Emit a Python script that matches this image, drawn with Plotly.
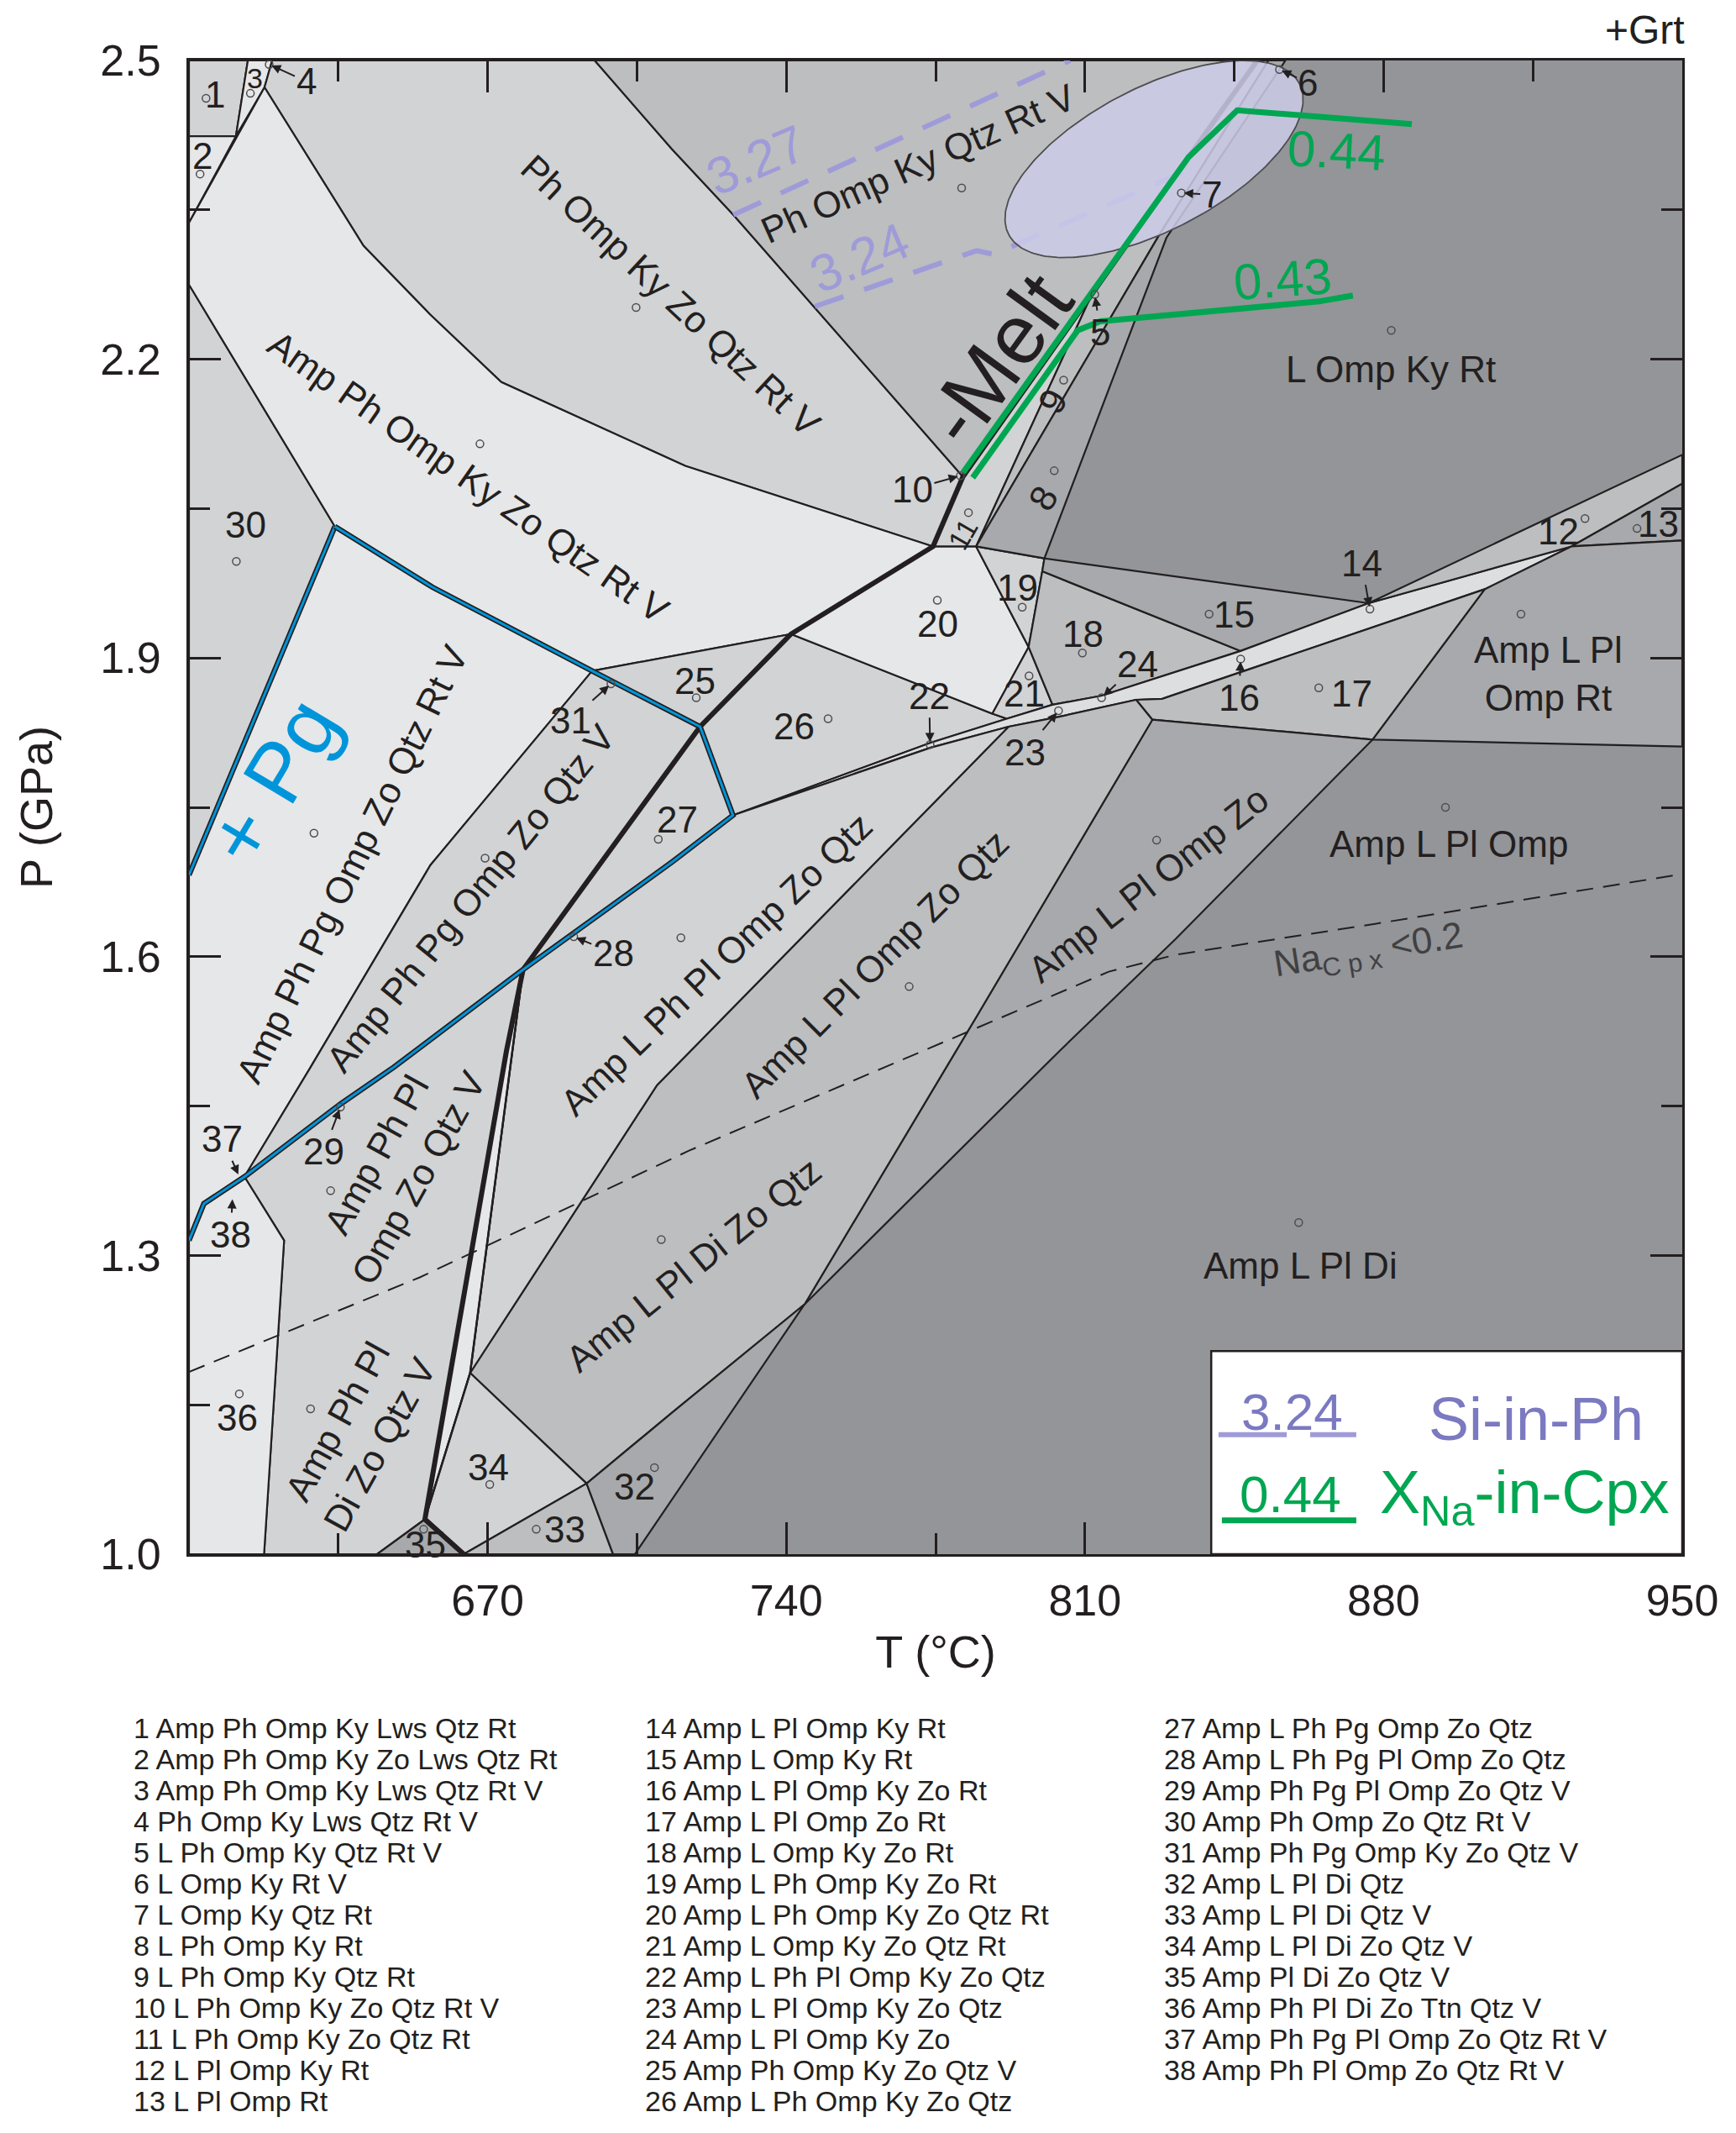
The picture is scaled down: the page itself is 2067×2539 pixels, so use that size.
import numpy as np
import plotly.graph_objects as go

FONT = "Liberation Sans, Arial, Helvetica, sans-serif"
INK = "#231f20"
G10, G20, G30, G40, G50 = "#e6e7e8", "#d1d3d4", "#bcbec0", "#a7a9ac", "#939598"
GBAND = "#dddee0"
BLUE = "#0095da"
GREEN = "#00a651"
LAV = "#9e9bd8"
LAV_D = "#7b79c0"

W, H = 2067, 2539
ML, MR, MT, MB = 217, 72, 64, 697

# ---------------- axes ----------------
T_RANGE = [600, 950]
P_RANGE = [1.0, 2.5]
T_TICKS = [670, 740, 810, 880, 950]
T_MINOR = [635, 705, 775, 845, 915]
P_TICKS = [1.0, 1.3, 1.6, 1.9, 2.2, 2.5]
P_MINOR = [1.15, 1.45, 1.75, 2.05, 2.35]

# ---------------- phase fields (T in degC, P in GPa) ----------------
FIELD_1 = [(600, 2.5), (613.8, 2.5), (611, 2.424), (600, 2.424)]
FIELD_2 = [(600, 2.424), (611, 2.424), (600, 2.337)]
FIELD_3 = [(611, 2.424), (613.8, 2.5), (619.5, 2.5), (617.7, 2.473)]
FIELD_PH_OMP_KY_ZO = [(617.7, 2.473), (619.5, 2.5), (695.1, 2.5), (713.2, 2.411), (727.6, 2.345),
                      (781.4, 2.082), (774.4, 2.012), (716.3, 2.093), (673.2, 2.177), (656.5, 2.245),
                      (640.9, 2.314)]
FIELD_PH_OMP_KY_QTZ = [(695.1, 2.5), (850.4, 2.5), (834.3, 2.403), (781.4, 2.082), (727.6, 2.345),
                       (713.2, 2.411)]
FIELD_30 = [(600, 2.275), (634.2, 2.032), (600, 1.682)]
FIELD_AMP_PH_OMP_KY_ZO = [(600, 2.337), (617.7, 2.473), (640.9, 2.314), (656.5, 2.245), (673.2, 2.177),
                          (716.3, 2.093), (774.4, 2.012), (741.1, 1.924), (717.1, 1.905), (694.5, 1.887),
                          (657.1, 1.971), (634.2, 2.032), (600, 2.275)]
FIELD_25 = [(694.5, 1.887), (717.1, 1.905), (741.1, 1.924), (719.8, 1.831)]
FIELD_PG_RT = [(634.2, 2.032), (657.1, 1.971), (694.5, 1.887), (656.6, 1.692), (628.5, 1.489),
               (613.0, 1.379), (603.5, 1.352), (600, 1.315), (600, 1.682)]
FIELD_PG = [(694.5, 1.887), (719.8, 1.831), (678.3, 1.587), (648.0, 1.489), (635.5, 1.452),
            (613.0, 1.379), (628.5, 1.489), (656.6, 1.692)]
FIELD_27 = [(719.8, 1.831), (727.5, 1.742), (713.2, 1.695), (678.3, 1.587)]
FIELD_26 = [(719.8, 1.831), (741.1, 1.924), (788.3, 1.844), (791.7, 1.839), (773.9, 1.815), (727.5, 1.742)]
FIELD_20 = [(774.4, 2.012), (784.5, 2.012), (796.8, 1.911), (788.3, 1.844), (741.1, 1.924)]
FIELD_21 = [(788.3, 1.844), (796.8, 1.911), (802.4, 1.853), (791.7, 1.839)]
FIELD_19 = [(784.5, 2.012), (800.5, 2.0), (800.0, 1.987), (796.8, 1.911)]
FIELD_18 = [(800.0, 1.987), (846.5, 1.907), (813.8, 1.862), (802.4, 1.853), (796.8, 1.911)]
FIELD_15 = [(800.0, 1.987), (800.5, 2.0), (876.5, 1.955), (846.5, 1.907)]
FIELD_BAND = [(727.5, 1.742), (773.9, 1.815), (791.7, 1.839), (802.4, 1.853), (813.8, 1.862),
              (846.5, 1.907), (876.5, 1.955), (924.0, 2.012), (903.7, 1.969), (828.1, 1.859),
              (822.0, 1.858), (804.0, 1.841), (792.1, 1.831), (773.9, 1.810)]
FIELD_12 = [(876.5, 1.955), (950, 2.104), (950, 2.075), (924.0, 2.012)]
FIELD_13 = [(924.0, 2.012), (950, 2.075), (950, 2.018)]
FIELD_L_PL_OMP_RT = [(924.0, 2.012), (950, 2.018), (950, 1.811), (877.4, 1.818), (903.7, 1.969)]
FIELD_17 = [(822.0, 1.858), (828.1, 1.859), (903.7, 1.969), (877.4, 1.818), (825.8, 1.838)]
FIELD_L_PL_OMP_ZO = [(825.8, 1.838), (877.4, 1.818), (831.3, 1.618), (804.2, 1.506), (744.3, 1.251),
                     (784.9, 1.542)]
FIELD_L_PL_OMP_ZO_QTZ = [(792.1, 1.831), (804.0, 1.841), (822.0, 1.858), (825.8, 1.838), (784.9, 1.542),
                         (744.3, 1.251), (713.2, 1.142), (693.2, 1.071), (665.9, 1.182), (709.7, 1.471)]
FIELD_L_PH_PL_OMP = [(727.5, 1.742), (773.9, 1.810), (792.1, 1.831), (709.7, 1.471), (665.9, 1.182),
                     (678.3, 1.587), (713.2, 1.695)]
FIELD_MELT_GAP = [(678.3, 1.587), (665.9, 1.182), (655.3, 1.035), (674.4, 1.505)]
FIELD_PH_PL_ZO_QTZ_V = [(613.0, 1.379), (635.5, 1.452), (648.0, 1.489), (678.3, 1.587), (674.4, 1.505),
                        (655.3, 1.035), (644.1, 1.0), (617.6, 1.0), (622.3, 1.315)]
FIELD_36 = [(600, 1.315), (603.5, 1.352), (613.0, 1.379), (622.3, 1.315), (617.6, 1.0), (600, 1.0)]
FIELD_34 = [(665.9, 1.182), (693.2, 1.071), (664.4, 1.0), (655.3, 1.035)]
FIELD_35 = [(655.3, 1.035), (664.4, 1.0), (644.1, 1.0)]
FIELD_33 = [(664.4, 1.0), (693.2, 1.071), (699.4, 1.0)]
FIELD_32 = [(693.2, 1.071), (713.2, 1.142), (744.3, 1.251), (704.5, 1.0), (699.4, 1.0)]
FIELD_11 = [(774.4, 2.012), (781.4, 2.082), (811.6, 2.265), (784.5, 2.012)]
FIELD_9 = [(784.5, 2.012), (811.6, 2.265), (834.3, 2.403), (850.4, 2.5), (853.0, 2.5), (827.3, 2.324)]
FIELD_8 = [(784.5, 2.012), (827.3, 2.324), (853.0, 2.5), (857.0, 2.5), (829.1, 2.322), (800.5, 2.0)]

FIELDS = [
    (FIELD_1, G20), (FIELD_2, G10), (FIELD_3, G10),
    (FIELD_PH_OMP_KY_ZO, G20), (FIELD_PH_OMP_KY_QTZ, G30), (FIELD_30, G20),
    (FIELD_AMP_PH_OMP_KY_ZO, G10), (FIELD_25, G20), (FIELD_PG_RT, G10), (FIELD_PG, G20),
    (FIELD_27, G20), (FIELD_26, G20), (FIELD_20, G10), (FIELD_21, G20), (FIELD_19, G20),
    (FIELD_18, G30), (FIELD_15, G40), (FIELD_BAND, GBAND), (FIELD_12, G30), (FIELD_13, G40),
    (FIELD_L_PL_OMP_RT, G40), (FIELD_17, G30), (FIELD_L_PL_OMP_ZO, G40),
    (FIELD_L_PL_OMP_ZO_QTZ, G30), (FIELD_L_PH_PL_OMP, G20), (FIELD_MELT_GAP, G10),
    (FIELD_PH_PL_ZO_QTZ_V, G20), (FIELD_36, G10), (FIELD_34, G20), (FIELD_35, G40),
    (FIELD_33, G30), (FIELD_32, G40), (FIELD_11, G20), (FIELD_9, G30), (FIELD_8, G40),
]

# ---------------- special curves ----------------
MELT_LINE = [(850.4, 2.5), (834.3, 2.403), (781.4, 2.082), (774.4, 2.012), (741.1, 1.924),
             (719.8, 1.831), (678.3, 1.587), (674.4, 1.505), (655.3, 1.035), (664.4, 1.0)]
MELT_THIN = [(678.3, 1.587), (665.9, 1.182), (655.3, 1.035)]
PG_LINE = [(634.2, 2.032), (600, 1.682)]
PG_LOOP = [(634.2, 2.032), (657.1, 1.971), (694.5, 1.887), (719.8, 1.831), (727.5, 1.742),
           (713.2, 1.695), (678.3, 1.587), (648.0, 1.489), (635.5, 1.452), (613.0, 1.379),
           (603.5, 1.352), (600, 1.315)]
NA_CPX_02 = [(600, 1.183), (654.1, 1.278), (717.1, 1.405), (815.6, 1.585), (831.3, 1.602),
             (878.0, 1.633), (950, 1.683)]
SI_327 = [(727.6, 2.345), (806.5, 2.5)]
SI_324 = [(746.7, 2.253), (784.6, 2.309), (789.0, 2.305), (793.3, 2.314), (835.2, 2.392)]
XNA_044 = [(781.4, 2.086), (834.3, 2.403), (845.7, 2.450), (886.6, 2.436)]
XNA_043 = [(783.7, 2.081), (808.3, 2.229), (813.6, 2.238), (864.8, 2.258), (872.8, 2.264)]

ELLIPSE_CENTER = (826.2, 2.401)
ELLIPSE_AXES_PX = (195, 85)
ELLIPSE_TILT_DEG = 27.4

POINT_T = [604.0, 602.6, 614.4, 704.8, 668.2, 611.1, 781.1, 881.8, 629.3, 669.4, 715.3, 710.0, 718.9,
           749.8, 775.4, 795.3, 809.4, 796.9, 768.8, 826.8, 839.1, 864.8, 912.2, 894.5, 927.2, 939.4,
           802.8, 805.0, 782.7, 633.2, 628.5, 611.8, 670.5, 681.4, 709.1, 655.0, 710.7, 860.1, 773.7,
           846.5, 876.8, 803.8, 813.9, 690.2, 698.9, 832.6, 855.6, 780.8, 812.3, 635.5, 618.8]
POINT_P = [2.462, 2.386, 2.467, 2.252, 2.115, 1.997, 2.372, 2.229, 1.724, 1.699, 1.619, 1.718, 1.860,
           1.839, 1.958, 1.951, 1.905, 1.882, 1.570, 1.717, 1.944, 1.870, 1.944, 1.750, 2.040, 2.030,
           2.088, 2.179, 2.046, 1.365, 1.146, 1.161, 1.070, 1.025, 1.087, 1.025, 1.316, 1.333, 1.813,
           1.899, 1.949, 1.847, 1.860, 1.620, 1.874, 2.367, 2.491, 2.083, 2.265, 1.449, 2.496]

# ---------------- labels ----------------
FIELD_LABELS = [
    ("Ph Omp Ky Zo Qtz Rt V", 712.9, 2.264, 43),
    ("Amp Ph Omp Ky Zo Qtz Rt V", 665.5, 2.082, 35),
    ("Ph Omp Ky Qtz Rt V", 770.9, 2.397, -24),
    ("L Omp Ky Rt", 881.6, 2.190, 0),
    ("Amp Ph Pg Omp Zo Qtz Rt V", 638.2, 1.693, -64),
    ("Amp Ph Pg Omp Zo Qtz V", 666.1, 1.659, -51),
    ("Amp Ph Pl<br>Omp Zo Qtz V", 648.8, 1.390, -61),
    ("Amp Ph Pl<br>Di Zo Qtz V", 639.8, 1.122, -61),
    ("Amp L Ph Pl Omp Zo Qtz", 723.6, 1.593, -44),
    ("Amp L Pl Omp Zo Qtz", 760.7, 1.593, -45),
    ("Amp L Pl Di Zo Qtz", 718.2, 1.291, -39),
    ("Amp L Pl Omp Zo", 824.8, 1.673, -38),
    ("Amp L Pl Omp", 895.3, 1.713, 0),
    ("Amp L Pl<br>Omp Rt", 918.6, 1.884, 0),
    ("Amp L Pl Di", 860.6, 1.290, 0),
]
NUMBER_LABELS = [
    ("1", 606.1, 2.466, 0), ("2", 603.2, 2.404, 0), ("3", 615.5, 2.482, 0), ("8", 800.1, 2.060, -60),
    ("9", 802.4, 2.158, -60), ("11", 781.4, 2.024, -60), ("12", 920.9, 2.027, 0), ("13", 944.4, 2.035, 0),
    ("15", 844.9, 1.944, 0), ("17", 872.5, 1.864, 0), ("18", 809.6, 1.924, 0), ("19", 794.1, 1.971, 0),
    ("20", 775.4, 1.934, 0), ("21", 795.7, 1.864, 0), ("25", 718.6, 1.877, 0), ("26", 741.9, 1.831, 0),
    ("27", 714.4, 1.738, 0), ("30", 613.2, 2.034, 0), ("32", 704.5, 1.068, 0), ("33", 688.1, 1.025, 0),
    ("34", 670.1, 1.087, 0), ("35", 655.4, 1.010, 0), ("36", 611.4, 1.137, 0),
]
ARROW_LABELS = [  # text, head T, head P, text offset x px, text offset y px
    ("4", 618.8, 2.496, 44, 20), ("6", 855.6, 2.491, 34, 16), ("7", 832.6, 2.367, 36, 2),
    ("10", 780.8, 2.083, -57, 16), ("5", 812.3, 2.265, 7, 45), ("14", 876.8, 1.949, -10, -55),
    ("16", 846.5, 1.899, -2, 46), ("22", 773.7, 1.813, -1, -58), ("23", 803.8, 1.847, -40, 49),
    ("24", 813.9, 1.860, 43, -40), ("28", 690.2, 1.620, 47, 19), ("29", 635.5, 1.449, -20, 53),
    ("31", 698.9, 1.874, -48, 43), ("37", 611.8, 1.379, -20, -45), ("38", 610.2, 1.359, -2, 45),
]

ASSEMBLAGES = [
    "1 Amp Ph Omp Ky Lws Qtz Rt", "2 Amp Ph Omp Ky Zo Lws Qtz Rt", "3 Amp Ph Omp Ky Lws Qtz Rt V",
    "4 Ph Omp Ky Lws Qtz Rt V", "5 L Ph Omp Ky Qtz Rt V", "6 L Omp Ky Rt V", "7 L Omp Ky Qtz Rt",
    "8 L Ph Omp Ky Rt", "9 L Ph Omp Ky Qtz Rt", "10 L Ph Omp Ky Zo Qtz Rt V", "11 L Ph Omp Ky Zo Qtz Rt",
    "12 L Pl Omp Ky Rt", "13 L Pl Omp Rt",
    "14 Amp L Pl Omp Ky Rt", "15 Amp L Omp Ky Rt", "16 Amp L Pl Omp Ky Zo Rt", "17 Amp L Pl Omp Zo Rt",
    "18 Amp L Omp Ky Zo Rt", "19 Amp L Ph Omp Ky Zo Rt", "20 Amp L Ph Omp Ky Zo Qtz Rt",
    "21 Amp L Omp Ky Zo Qtz Rt", "22 Amp L Ph Pl Omp Ky Zo Qtz", "23 Amp L Pl Omp Ky Zo Qtz",
    "24 Amp L Pl Omp Ky Zo", "25 Amp Ph Omp Ky Zo Qtz V", "26 Amp L Ph Omp Ky Zo Qtz",
    "27 Amp L Ph Pg Omp Zo Qtz", "28 Amp L Ph Pg Pl Omp Zo Qtz", "29 Amp Ph Pg Pl Omp Zo Qtz V",
    "30 Amp Ph Omp Zo Qtz Rt V", "31 Amp Ph Pg Omp Ky Zo Qtz V", "32 Amp L Pl Di Qtz",
    "33 Amp L Pl Di Qtz V", "34 Amp L Pl Di Zo Qtz V", "35 Amp Pl Di Zo Qtz V",
    "36 Amp Ph Pl Di Zo Ttn Qtz V", "37 Amp Ph Pg Pl Omp Zo Qtz Rt V", "38 Amp Ph Pl Omp Zo Qtz Rt V",
]
COLUMN_SPLITS = [0, 13, 26, 38]

# ---------------- build figure ----------------
fig = go.Figure()


def poly_xy(pts, close=True):
    t = [p[0] for p in pts]
    p = [q[1] for q in pts]
    if close:
        t.append(pts[0][0])
        p.append(pts[0][1])
    return t, p


for pts, col in FIELDS:
    t, p = poly_xy(pts)
    fig.add_trace(go.Scatter(x=t, y=p, mode="lines", fill="toself", fillcolor=col,
                             line=dict(color=INK, width=2.2), hoverinfo="skip", showlegend=False))

# Na cpx dashed line
t, p = poly_xy(NA_CPX_02, close=False)
fig.add_trace(go.Scatter(x=t, y=p, mode="lines", line=dict(color=INK, width=2, dash="20px,12px"),
                         hoverinfo="skip", showlegend=False))

# solidus (melt) line
t, p = poly_xy(MELT_THIN, close=False)
fig.add_trace(go.Scatter(x=t, y=p, mode="lines", line=dict(color=INK, width=2.5),
                         hoverinfo="skip", showlegend=False))
t, p = poly_xy(MELT_LINE, close=False)
fig.add_trace(go.Scatter(x=t, y=p, mode="lines", line=dict(color=INK, width=6),
                         hoverinfo="skip", showlegend=False))

# paragonite lines
for line in (PG_LINE, PG_LOOP):
    t, p = poly_xy(line, close=False)
    fig.add_trace(go.Scatter(x=t, y=p, mode="lines", line=dict(color=INK, width=6.5),
                             hoverinfo="skip", showlegend=False))
    fig.add_trace(go.Scatter(x=t, y=p, mode="lines", line=dict(color=BLUE, width=3),
                             hoverinfo="skip", showlegend=False))

# Si-in-Ph isopleths
for line in (SI_327, SI_324):
    t, p = poly_xy(line, close=False)
    fig.add_trace(go.Scatter(x=t, y=p, mode="lines", line=dict(color=LAV, width=6, dash="36px,26px"),
                             hoverinfo="skip", showlegend=False))

# ellipse
px_T = (W - ML - MR) / (T_RANGE[1] - T_RANGE[0])
px_P = (H - MT - MB) / (P_RANGE[1] - P_RANGE[0])
phi = np.linspace(0, 2 * np.pi, 240)
th = np.radians(ELLIPSE_TILT_DEG)
a, b = ELLIPSE_AXES_PX
dx = a * np.cos(phi) * np.cos(th) - b * np.sin(phi) * np.sin(th)
dy = a * np.cos(phi) * np.sin(th) + b * np.sin(phi) * np.cos(th)
fig.add_trace(go.Scatter(x=ELLIPSE_CENTER[0] + dx / px_T, y=ELLIPSE_CENTER[1] + dy / px_P,
                         mode="lines", fill="toself", fillcolor="rgba(204,203,232,0.86)",
                         line=dict(color="#4d4d4f", width=1.8), hoverinfo="skip", showlegend=False))

# XNa-in-Cpx isopleths
for line in (XNA_044, XNA_043):
    t, p = poly_xy(line, close=False)
    fig.add_trace(go.Scatter(x=t, y=p, mode="lines", line=dict(color=GREEN, width=7),
                             hoverinfo="skip", showlegend=False))

# small circles
fig.add_trace(go.Scatter(x=POINT_T, y=POINT_P, mode="markers",
                         marker=dict(symbol="circle-open", size=9, color="#4d4d4f", line=dict(width=1.5)),
                         hoverinfo="skip", showlegend=False))

ann = []
for txt, t, p, ang in FIELD_LABELS:
    ann.append(dict(x=t, y=p, text=txt, showarrow=False, textangle=ang,
                    font=dict(family=FONT, size=44, color=INK)))
for txt, t, p, ang in NUMBER_LABELS:
    size = 34 if txt in ("3", "11") else 44
    ann.append(dict(x=t, y=p, text=txt, showarrow=False, textangle=ang,
                    font=dict(family=FONT, size=size, color=INK)))
for txt, t, p, axp, ayp in ARROW_LABELS:
    ann.append(dict(x=t, y=p, text=txt, showarrow=True, ax=axp, ay=ayp, arrowhead=2, arrowsize=1.1,
                    arrowwidth=2, arrowcolor=INK, standoff=3,
                    font=dict(family=FONT, size=44, color=INK)))

ann += [
    dict(x=789.5, y=2.200, text="-Melt", showarrow=False, textangle=-54,
         font=dict(family=FONT, size=100, color=INK)),
    dict(x=619.5, y=1.776, text="+ Pg", showarrow=False, textangle=-59,
         font=dict(family=FONT, size=100, color=BLUE)),
    dict(x=733, y=2.40, text="3.27", showarrow=False, textangle=-23,
         font=dict(family=FONT, size=62, color=LAV)),
    dict(x=757.2, y=2.302, text="3.24", showarrow=False, textangle=-23,
         font=dict(family=FONT, size=62, color=LAV)),
    dict(x=869, y=2.409, text="0.44", showarrow=False, textangle=3,
         font=dict(family=FONT, size=60, color=GREEN)),
    dict(x=856.4, y=2.280, text="0.43", showarrow=False, textangle=-4,
         font=dict(family=FONT, size=60, color=GREEN)),
    dict(x=876.4, y=1.605, text="Na<sub>C p x</sub> <0.2", showarrow=False, textangle=-9,
         font=dict(family=FONT, size=44, color="#414042")),
    # inset legend texts
    dict(x=858.5, y=1.143, text="3.24", showarrow=False,
         font=dict(family=FONT, size=62, color=LAV_D)),
    dict(x=915.7, y=1.136, text="Si-in-Ph", showarrow=False,
         font=dict(family=FONT, size=72, color=LAV_D)),
    dict(x=858.1, y=1.060, text="0.44", showarrow=False,
         font=dict(family=FONT, size=62, color=GREEN)),
    dict(x=913, y=1.058, text="X<sub>Na</sub>-in-Cpx", showarrow=False,
         font=dict(family=FONT, size=72, color=GREEN)),
    dict(x=0.9747, y=1.0207, xref="paper", yref="paper", text="+Grt", showarrow=False,
         xanchor="center", yanchor="middle",
         font=dict(family=FONT, size=48, color=INK)),
]

# assemblage list below the chart
col_x = [-0.0382, 0.3043, 0.6519]
y0, dy = -0.1165, 0.02079
for c in range(3):
    for i, txt in enumerate(ASSEMBLAGES[COLUMN_SPLITS[c]:COLUMN_SPLITS[c + 1]]):
        ann.append(dict(x=col_x[c], y=y0 - i * dy, xref="paper", yref="paper", text=txt,
                        showarrow=False, xanchor="left", yanchor="middle",
                        font=dict(family=FONT, size=34, color=INK)))

shapes = [
    dict(type="rect", x0=839.6, x1=950, y0=1.0, y1=1.204, xref="x", yref="y",
         fillcolor="white", line=dict(color=INK, width=2.5), layer="above"),
    dict(type="line", x0=841.3, x1=857.3, y0=1.120, y1=1.120, line=dict(color=LAV, width=6), layer="above"),
    dict(type="line", x0=862.8, x1=873.6, y0=1.120, y1=1.120, line=dict(color=LAV, width=6), layer="above"),
    dict(type="line", x0=842.1, x1=873.6, y0=1.034, y1=1.034, line=dict(color=GREEN, width=7), layer="above"),
]

axis_common = dict(showgrid=False, zeroline=False, showline=True, linecolor=INK, linewidth=3,
                   mirror="allticks", ticks="inside", ticklen=38, tickwidth=3, tickcolor=INK,
                   tickfont=dict(family=FONT, size=52, color=INK))

fig.update_layout(
    width=W, height=H, autosize=False,
    margin=dict(l=ML, r=MR, t=MT, b=MB),
    paper_bgcolor="white", plot_bgcolor=G50,
    showlegend=False,
    xaxis=dict(range=T_RANGE, tickvals=T_TICKS, ticktext=[str(v) for v in T_TICKS],
               ticklabelstandoff=8,
               minor=dict(tickvals=T_MINOR, ticks="inside", ticklen=25, tickwidth=3, tickcolor=INK),
               title=dict(text="T (°C)", font=dict(family=FONT, size=54, color=INK), standoff=14),
               **axis_common),
    yaxis=dict(range=P_RANGE, tickvals=P_TICKS, ticktext=[f"{v:.1f}" for v in P_TICKS],
               ticklabelstandoff=20,
               minor=dict(tickvals=P_MINOR, ticks="inside", ticklen=25, tickwidth=3, tickcolor=INK),
               title=dict(text="P (GPa)", font=dict(family=FONT, size=54, color=INK), standoff=40),
               **axis_common),
    annotations=ann,
    shapes=shapes,
)

fig.write_html("out.html")
